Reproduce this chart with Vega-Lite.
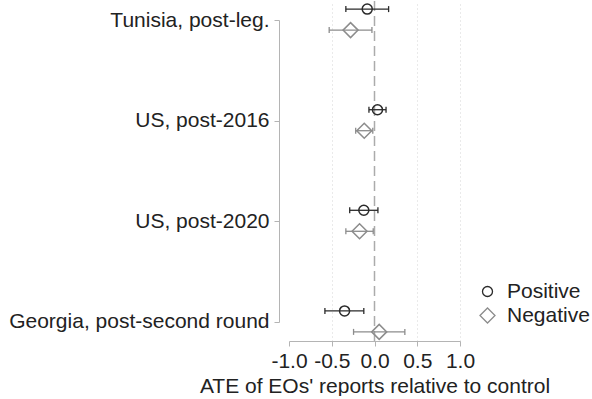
{
  "$schema": "https://vega.github.io/schema/vega-lite/v6.json",
  "width": 171,
  "height": 340,
  "padding": {"left": 8, "top": 0, "right": 0, "bottom": 0},
  "config": {
    "font": "Liberation Sans",
    "view": {"stroke": null},
    "locale": {"number": {"decimal": ".", "thousands": ",", "grouping": [3], "currency": ["$", ""], "minus": "-"}},
    "axis": {
      "labelFontSize": 21,
      "labelColor": "#222222",
      "labelLimit": 400,
      "labelOverlap": false,
      "labelFlush": false,
      "titleFontSize": 21,
      "titleFontWeight": "normal",
      "titleColor": "#222222",
      "domainColor": "#b4b4b4",
      "tickColor": "#b4b4b4",
      "tickSize": 5,
      "labelPadding": 4
    },
    "legend": {"labelFontSize": 21, "labelColor": "#222222", "labelLimit": 200}
  },
  "datasets": {
    "estimates": [
      {"election": "Tunisia, post-leg.", "sign": "Positive", "est": -0.085, "lo": -0.335, "hi": 0.165},
      {"election": "Tunisia, post-leg.", "sign": "Negative", "est": -0.28, "lo": -0.53, "hi": -0.03},
      {"election": "US, post-2016", "sign": "Positive", "est": 0.035, "lo": -0.065, "hi": 0.135},
      {"election": "US, post-2016", "sign": "Negative", "est": -0.12, "lo": -0.22, "hi": -0.02},
      {"election": "US, post-2020", "sign": "Positive", "est": -0.125, "lo": -0.29, "hi": 0.04},
      {"election": "US, post-2020", "sign": "Negative", "est": -0.175, "lo": -0.335, "hi": -0.015},
      {"election": "Georgia, post-second round", "sign": "Positive", "est": -0.35, "lo": -0.58, "hi": -0.125},
      {"election": "Georgia, post-second round", "sign": "Negative", "est": 0.055, "lo": -0.245, "hi": 0.355}
    ],
    "reference": [{"ref": 0}]
  },
  "layer": [
    {
      "data": {"name": "reference"},
      "mark": {"type": "rule", "color": "#ababab", "strokeWidth": 1.5, "strokeDash": [10, 5]},
      "encoding": {
        "x": {"field": "ref", "type": "quantitative", "scale": {"domain": [-1, 1], "nice": false, "zero": false}, "title": "ATE of EOs' reports relative to control"}
      }
    },
    {
      "data": {"name": "estimates"},
      "encoding": {
        "y": {
          "field": "election",
          "type": "nominal",
          "sort": ["Tunisia, post-leg.", "US, post-2016", "US, post-2020", "Georgia, post-second round"],
          "scale": {"type": "point", "padding": 0.19},
          "axis": {"title": null, "offset": 10, "domainDash": [0, 19, 302, 19], "labelPadding": 5, "grid": false}
        },
        "yOffset": {
          "field": "sign",
          "type": "nominal",
          "sort": ["Positive", "Negative"],
          "scale": {"type": "point", "padding": 0, "range": [-11, 10]}
        },
        "color": {
          "field": "sign",
          "type": "nominal",
          "sort": ["Positive", "Negative"],
          "scale": {"domain": ["Positive", "Negative"], "range": ["#2a2a2a", "#8c8c8c"]},
          "legend": {
            "title": null,
            "orient": "none",
            "legendX": 188,
            "legendY": 280,
            "rowPadding": 2,
            "labelOffset": 9,
            "symbolStrokeWidth": 1.3,
            "encode": {"symbols": {"update": {"size": {"signal": "datum.value === 'Negative' ? 121 : 49"}}}}
          }
        }
      },
      "layer": [
        {
          "mark": {"type": "rule", "strokeWidth": 1.3},
          "encoding": {
            "x": {
              "field": "lo",
              "type": "quantitative",
              "scale": {"domain": [-1, 1], "nice": false, "zero": false},
              "title": "ATE of EOs' reports relative to control",
              "axis": {
                "values": [-1, -0.5, 0, 0.5, 1],
                "format": ".1f",
                "grid": true,
                "gridColor": "#d4d4d4",
                "gridDash": [1, 3],
                "gridOpacity": {"condition": {"test": "datum.value === -1 || datum.value === 0", "value": 0}, "value": 1},
                "titlePadding": 4
              }
            },
            "x2": {"field": "hi"}
          }
        },
        {
          "mark": {"type": "point", "shape": "M0,-1L0,1", "size": 36, "strokeWidth": 1.3, "filled": false, "opacity": 1},
          "encoding": {
            "x": {"field": "lo", "type": "quantitative", "title": "ATE of EOs' reports relative to control"}
          }
        },
        {
          "mark": {"type": "point", "shape": "M0,-1L0,1", "size": 36, "strokeWidth": 1.3, "filled": false, "opacity": 1},
          "encoding": {
            "x": {"field": "hi", "type": "quantitative", "title": "ATE of EOs' reports relative to control"}
          }
        },
        {
          "mark": {"type": "point", "filled": false, "strokeWidth": 1.5, "opacity": 1},
          "encoding": {
            "x": {"field": "est", "type": "quantitative", "title": "ATE of EOs' reports relative to control"},
            "shape": {
              "field": "sign",
              "type": "nominal",
              "sort": ["Positive", "Negative"],
              "scale": {"domain": ["Positive", "Negative"], "range": ["circle", "diamond"]},
              "legend": {"title": null}
            },
            "size": {
              "field": "sign",
              "type": "nominal",
              "scale": {"domain": ["Positive", "Negative"], "range": [100, 225]},
              "legend": null
            }
          }
        }
      ]
    }
  ]
}
